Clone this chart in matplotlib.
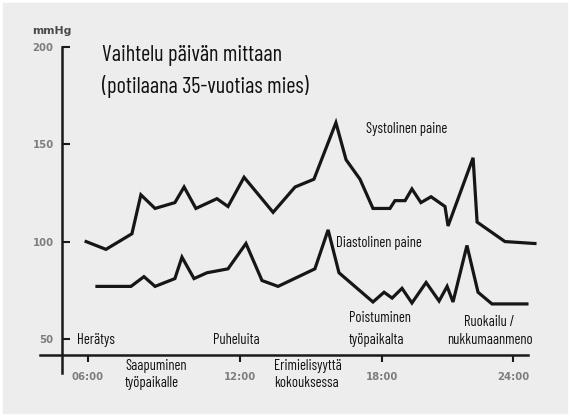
import matplotlib
matplotlib.use("Agg")
import matplotlib.pyplot as plt
from matplotlib import font_manager
from matplotlib.patches import Rectangle

# blood pressure over the day
sys_hours = [5.92, 6.76, 7.86, 8.24, 8.84, 9.68, 10.07, 10.57, 11.46, 11.93,
             12.61, 13.84, 14.77, 15.57, 16.50, 16.93, 17.52, 18.07, 18.79, 19.00,
             19.43, 19.72, 20.10, 20.53, 21.12, 21.25, 22.31, 22.48, 23.66, 24.93]
sys_vals = [100, 96, 104, 124, 117, 120, 128, 117, 122, 118,
            133, 115, 128, 132, 161, 142, 132, 117, 117, 121,
            121, 127, 120, 123, 118, 108, 143, 110, 100, 99]

dia_hours = [6.38, 7.82, 8.37, 8.84, 9.68, 9.98, 10.49, 11.04, 11.93, 12.69,
             13.37, 14.05, 15.61, 16.17, 16.63, 18.07, 18.54, 18.88, 19.30, 19.72,
             20.32, 20.87, 21.21, 21.46, 22.05, 22.52, 23.11, 24.59]
dia_vals = [77, 77, 82, 77, 81, 92, 81, 84, 86, 99,
            80, 77, 86, 106, 84, 69, 74, 71, 76, 68.5,
            79, 69.5, 77, 69, 98, 74, 68, 68]

ytick_vals = [50, 100, 150, 200]
xtick_pos = [6.0, 12.44, 18.44, 24.0]
xtick_labels = ["06:00", "12:00", "18:00", "24:00"]

names = {f.name for f in font_manager.fontManager.ttflist}
cond = next((n for n in ["Barlow Condensed", "Archivo Narrow", "Asap Condensed"]
             if n in names), "DejaVu Sans")
plt.rcParams['font.family'] = [cond, 'DejaVu Sans']

W, H = 571, 417
fig = plt.figure(figsize=(W / 100, H / 100), dpi=100, facecolor='#ededed')
fig.patches.append(Rectangle((0, 0), 1, 1, transform=fig.transFigure,
                             fill=False, edgecolor='white', lw=4))

# pixel -> data mapping of the original drawing
X0, XS = 88, 23.61
Y0, YS = 339, 1.949
def hx(px):
    return 6 + (px - X0) / XS
def vy(py):
    return 50 + (Y0 - py) / YS

left, right, top, bottom = 40, 545, 46.7, 373
ax = fig.add_axes([left / W, 1 - bottom / H, (right - left) / W, (bottom - top) / H])
ax.set_facecolor('none')
ax.set_xlim(hx(left), hx(right))
ax.set_ylim(vy(bottom), vy(top))

ax.plot(sys_hours, sys_vals, color='#161616', lw=2.3, solid_joinstyle='miter')
ax.plot(dia_hours, dia_vals, color='#161616', lw=2.3, solid_joinstyle='miter')

for s in ['top', 'right']:
    ax.spines[s].set_visible(False)
ax.spines['left'].set_position(('data', hx(62)))
ax.spines['bottom'].set_position(('data', vy(355)))
ax.spines['bottom'].set_bounds(hx(left), hx(528))
for s in ['left', 'bottom']:
    ax.spines[s].set_linewidth(1.8)
    ax.spines[s].set_color('#1a1a1a')

ax.set_yticks(ytick_vals)
ax.set_yticklabels([str(v) for v in ytick_vals])
ax.tick_params(axis='y', direction='in', length=6, width=1.5, pad=6,
               labelcolor='#7d7d7d', color='#1a1a1a')
ax.set_xticks(xtick_pos)
ax.set_xticklabels(xtick_labels)
ax.tick_params(axis='x', direction='out', length=5, width=1.5, pad=7,
               labelcolor='#7d7d7d', color='#1a1a1a')
for lab in ax.get_yticklabels() + ax.get_xticklabels():
    lab.set_fontweight('bold')
    lab.set_family('DejaVu Sans')
    lab.set_fontsize(7.3)

def ftext(px, py, s, **kw):
    fig.text(px / W, 1 - py / H, s, va='center', **kw)

ftext(32, 31, "mmHg", fontsize=7.8, fontweight='bold', color='#4a4a4a',
      family='DejaVu Sans')
ftext(102, 56, "Vaihtelu päivän mittaan", fontsize=16, color='#111111')
ftext(102, 87, "(potilaana 35-vuotias mies)", fontsize=16, color='#111111')

ann = dict(fontsize=10.5, color='#111111')
ftext(366, 129, "Systolinen paine", **ann)
ftext(336, 243, "Diastolinen paine", **ann)
ftext(77, 340, "Herätys", **ann)
ftext(213, 340, "Puheluita", **ann)
ftext(125, 366, "Saapuminen", **ann)
ftext(125, 383, "työpaikalle", **ann)
ftext(274, 366, "Erimielisyyttä", **ann)
ftext(274, 383, "kokouksessa", **ann)
ftext(349, 318, "Poistuminen", **ann)
ftext(349, 340, "työpaikalta", **ann)
ftext(489, 322, "Ruokailu /", ha='center', **ann)
ftext(490, 340, "nukkumaanmeno", ha='center', **ann)

fig.savefig("out.png", dpi=100, facecolor=fig.get_facecolor())
